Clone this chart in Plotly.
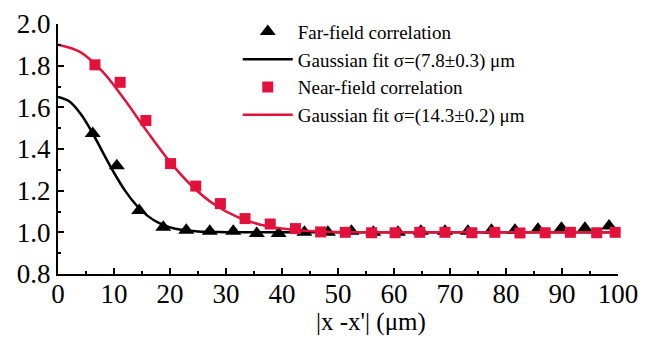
import plotly.graph_objects as go

# Far-field correlation (triangles)
far_x = [6.2, 10.5, 14.5, 18.8, 22.9, 27.1, 31.3, 35.5, 39.4, 44.0, 48.2, 52.4, 56.3, 60.7,
         64.8, 69.1, 73.2, 77.4, 81.6, 85.7, 89.9, 94.1, 98.4]
far_y = [1.475, 1.32, 1.105, 1.025, 1.01, 1.005, 1.005, 0.995, 0.995, 1.0, 1.0, 1.005, 1.0, 1.0,
         1.005, 1.005, 1.005, 1.01, 1.01, 1.015, 1.02, 1.02, 1.03]

# Gaussian fit (far-field)
far_fit_x = [0, 2, 4, 6, 8, 10, 12, 14, 16, 18, 20, 22, 25, 30, 35, 40, 60, 80, 100]
far_fit_y = [1.650, 1.629, 1.570, 1.484, 1.384, 1.286, 1.199, 1.130, 1.079, 1.045, 1.024, 1.012,
             1.004, 1.001, 1.000, 1.000, 1.000, 1.000, 1.000]

# Near-field correlation (squares)
near_x = [6.6, 11.1, 15.7, 20.1, 24.6, 29.0, 33.4, 37.9, 42.4, 46.9, 51.3, 56.0, 60.2, 64.6,
          69.1, 73.9, 78.0, 82.5, 87.0, 91.5, 96.2, 99.5]
near_y = [1.804, 1.72, 1.537, 1.33, 1.222, 1.138, 1.066, 1.04, 1.018, 1.002, 1.0, 0.998, 0.998, 1.0,
          1.0, 0.998, 1.0, 0.997, 0.998, 1.0, 0.998, 1.0]

# Gaussian fit (near-field)
near_fit_x = [0, 4, 8, 12, 16, 20, 24, 28, 32, 36, 40, 44, 48, 52, 60, 80, 100]
near_fit_y = [1.900, 1.865, 1.770, 1.633, 1.481, 1.338, 1.220, 1.132, 1.074, 1.038, 1.018, 1.008,
              1.003, 1.001, 1.000, 1.000, 1.000]

x_ticks = [0, 10, 20, 30, 40, 50, 60, 70, 80, 90, 100]
y_ticks = [0.8, 1.0, 1.2, 1.4, 1.6, 1.8, 2.0]

RED = "#e2123c"
FONT = "Liberation Serif, Times New Roman, serif"

fig = go.Figure()
fig.add_trace(go.Scatter(x=far_x, y=far_y, mode="markers", name="Far-field correlation",
                         marker=dict(symbol="triangle-up", size=14, color="black")))
fig.add_trace(go.Scatter(x=far_fit_x, y=far_fit_y, mode="lines", line_shape="spline",
                         name="Gaussian fit σ=(7.8±0.3) μm",
                         line=dict(color="black", width=2.5)))
fig.add_trace(go.Scatter(x=near_x, y=near_y, mode="markers", name="Near-field correlation",
                         marker=dict(symbol="square", size=11, color=RED)))
fig.add_trace(go.Scatter(x=near_fit_x, y=near_fit_y, mode="lines", line_shape="spline",
                         name="Gaussian fit σ=(14.3±0.2) μm",
                         line=dict(color=RED, width=2.5)))

fig.update_traces(cliponaxis=False)

axis_common = dict(showline=True, linecolor="black", linewidth=2, ticks="inside", ticklen=6,
                   tickwidth=1.5, tickcolor="black", showgrid=False, zeroline=False,
                   tickfont=dict(family=FONT, size=27, color="black"))

fig.update_xaxes(range=[0, 100], tickvals=x_ticks, ticktext=[str(v) for v in x_ticks],
                 ticklabelstandoff=-5,
                 minor=dict(ticks="inside", ticklen=3, dtick=5, tickcolor="black", tickwidth=1.5),
                 **axis_common)
fig.update_yaxes(range=[0.8, 2.0], tickvals=y_ticks, ticktext=[f"{v:.1f}" for v in y_ticks],
                 minor=dict(ticks="inside", ticklen=3, dtick=0.1, tickcolor="black", tickwidth=1.5),
                 **axis_common)

fig.add_annotation(text="|x -x'| (μm)", xref="paper", yref="paper", x=0.559, y=-0.19,
                   showarrow=False, xanchor="center", yanchor="middle",
                   font=dict(family=FONT, size=25, color="black"))

fig.update_layout(
    width=660, height=337,
    margin=dict(l=58, r=42, t=24, b=63, autoexpand=False),
    paper_bgcolor="white", plot_bgcolor="white",
    showlegend=True,
    legend=dict(x=0.321, y=1.045, xanchor="left", yanchor="top", bgcolor="rgba(0,0,0,0)",
                font=dict(family=FONT, size=19, color="black"), itemwidth=50,
                tracegroupgap=0, traceorder="normal"),
    font=dict(family=FONT, color="black"),
)

fig.write_html("out.html", config={"displayModeBar": False},
               post_script="document.body.style.margin='0';document.body.style.overflow='hidden';")
